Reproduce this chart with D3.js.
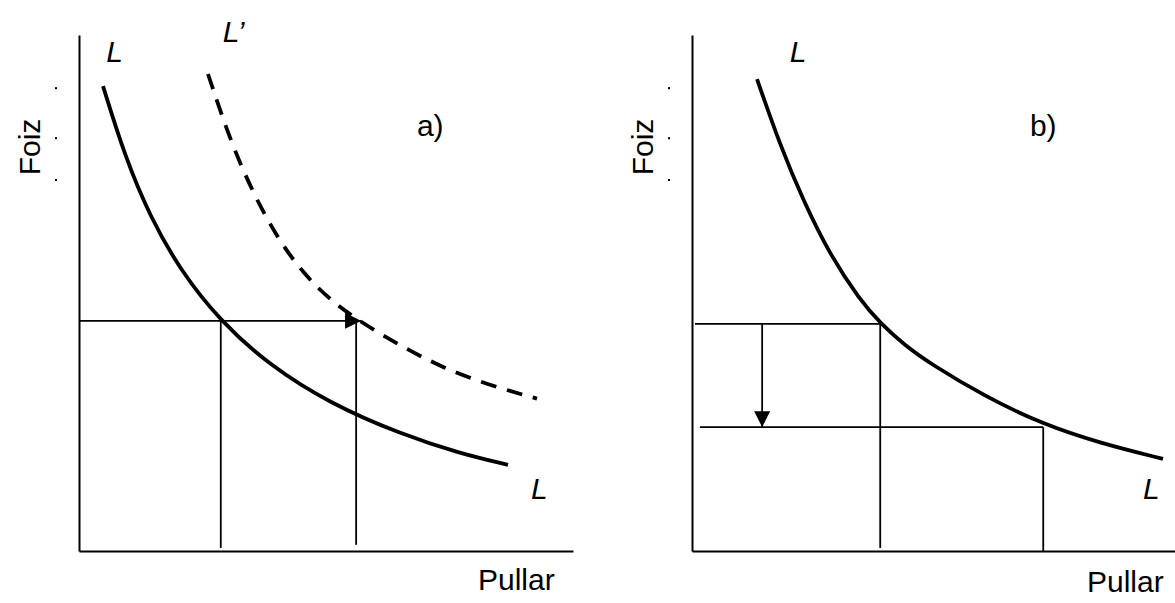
<!DOCTYPE html>
<html>
<head>
<meta charset="utf-8">
<script src="https://cdn.jsdelivr.net/npm/d3@7"></script>
<style>
  body { margin: 0; background: #fff; }
  text { font-family: "Liberation Sans", Arial, sans-serif; fill: #000; }
</style>
</head>
<body>
<div id="chart"></div>
<script>
// curve points, in axis units (0-100 both ways)
var curveA = [[4.86, 90.1], [9.31, 76.4], [14.37, 64.8], [20.45, 54.5], [28.54, 44.6],
  [38.66, 35.9], [50.81, 28.6], [64.98, 22.7], [77.13, 18.9], [86.84, 16.7]];
var curveA2 = [[26.11, 92.44], [30.57, 79.65], [35.22, 69.38], [40.28, 60.47], [45.34, 53.88],
  [50.81, 48.64], [56.88, 44.46], [64.98, 39.81], [73.68, 35.47], [83.2, 32.09], [92.71, 29.53]];
var curveB = [[13.16, 91.47], [17.81, 78.68], [22.47, 68.02], [27.94, 57.36], [34.01, 48.64],
  [38.06, 44.19], [43.12, 39.83], [48.18, 36.34], [59.31, 29.94], [71.05, 24.55],
  [82.59, 20.91], [95.34, 17.85]];

// guide lines [x1, y1, x2, y2]
var guidesA = [[0, 44.6, 28.7, 44.6], [28.7, 44.6, 28.7, 0.6], [56.1, 44.6, 56.1, 1.2]];
var arrowsA = [[28.7, 44.6, 57.1, 44.6]];
var guidesB = [[0.6, 44.0, 38.1, 44.0], [1.6, 24.0, 71.1, 24.0],
  [38.1, 44.0, 38.1, 0.6], [71.1, 24.0, 71.1, 0]];
var arrowsB = [[14.2, 44.0, 14.2, 24.0]];

// labels [text, x, y, italic]
var labelsA = [["L", 5.5, 94.7, true], ["L\u2019", 29.1, 98.6, true], ["L", 91.5, 10.1, true], ["a)", 68.4, 80.4, false]];
var labelsB = [["L", 19.8, 94.7, true], ["L", 91.3, 10.0, true], ["b)", 68.4, 80.4, false]];
var dotYs = [89.7, 80.0, 71.9];

var width = 1175, height = 603;
var svg = d3.select("#chart").append("svg")
  .attr("width", width).attr("height", height);

var defs = svg.append("defs");
defs.append("marker")
  .attr("id", "arrow")
  .attr("markerUnits", "userSpaceOnUse")
  .attr("viewBox", "0 0 16 16")
  .attr("refX", 16).attr("refY", 8)
  .attr("markerWidth", 16).attr("markerHeight", 16)
  .attr("orient", "auto")
  .append("path").attr("d", "M0,0L16,8L0,16Z").attr("fill", "#000");

function drawPanel(x0, curves, guides, arrows, labels, pullarX, pullarY) {
  var x = d3.scaleLinear().domain([0, 100]).range([x0, x0 + 494]);
  var y = d3.scaleLinear().domain([0, 100]).range([551, 35]);
  var g = svg.append("g");

  // axes: just the domain lines
  g.append("g").attr("transform", "translate(" + x0 + ",0)")
    .call(d3.axisLeft(y).tickValues([]).tickSizeOuter(0))
    .select(".domain").attr("stroke-width", 2);
  g.append("g").attr("transform", "translate(0,551)")
    .call(d3.axisBottom(x).tickValues([]).tickSizeOuter(0))
    .select(".domain").attr("stroke-width", 2);

  g.selectAll(".guide").data(guides).enter().append("line")
    .attr("x1", d => x(d[0])).attr("y1", d => y(d[1]))
    .attr("x2", d => x(d[2])).attr("y2", d => y(d[3]))
    .attr("stroke", "#000").attr("stroke-width", 1.8);

  g.selectAll(".arr").data(arrows).enter().append("line")
    .attr("x1", d => x(d[0])).attr("y1", d => y(d[1]))
    .attr("x2", d => x(d[2])).attr("y2", d => y(d[3]))
    .attr("stroke", "#000").attr("stroke-width", 1.8)
    .attr("marker-end", "url(#arrow)");

  var line = d3.line().x(d => x(d[0])).y(d => y(d[1])).curve(d3.curveBasis);
  curves.forEach(function (c) {
    g.append("path").attr("d", line(c.pts))
      .attr("fill", "none").attr("stroke", "#000").attr("stroke-width", 3.8)
      .attr("stroke-dasharray", c.dash ? "16,11" : null);
  });

  g.selectAll(".lbl").data(labels).enter().append("text")
    .attr("x", d => x(d[1])).attr("y", d => y(d[2]))
    .attr("font-size", 30)
    .attr("font-style", d => d[3] ? "italic" : "normal")
    .text(d => d[0]);

  // little specks left of the axis
  g.selectAll(".dot").data(dotYs).enter().append("rect")
    .attr("x", x0 - 24).attr("y", d => y(d) - 1)
    .attr("width", 2).attr("height", 2).attr("fill", "#000");

  g.append("text")
    .attr("transform", "translate(" + (x0 - 39) + ",147) rotate(-90)")
    .attr("text-anchor", "middle").attr("font-size", 30)
    .text("Foiz");
  g.append("text").attr("x", pullarX).attr("y", pullarY)
    .attr("font-size", 30).text("Pullar");
}

drawPanel(79, [{ pts: curveA }, { pts: curveA2, dash: true }], guidesA, arrowsA, labelsA, 478, 590);
drawPanel(692, [{ pts: curveB }], guidesB, arrowsB, labelsB, 1087, 592);
</script>
</body>
</html>
